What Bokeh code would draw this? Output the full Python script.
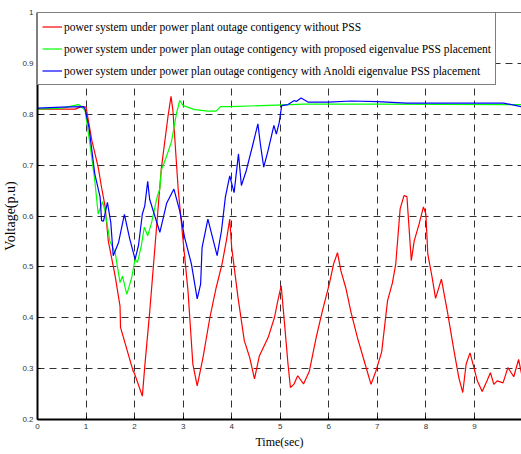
from bokeh.plotting import figure
from bokeh.models import Legend, LegendItem, FixedTicker, Span, Range1d
from bokeh.embed import file_html
from bokeh.resources import INLINE

# ---- data ----
t_red = [0, 0.5, 0.78, 0.9, 1.0, 1.12, 1.25, 1.32, 1.39, 1.46, 1.6, 1.7, 1.71, 1.97, 2.0,
         2.16, 2.21, 2.31, 2.42, 2.55, 2.69, 2.75, 2.79, 2.9, 3.0, 3.1, 3.2, 3.29, 3.41,
         3.55, 3.68, 3.8, 3.89, 3.96, 4.0, 4.13, 4.26, 4.37, 4.47, 4.57, 4.75, 4.88, 4.95,
         5.02, 5.09, 5.16, 5.21, 5.28, 5.36, 5.48, 5.6, 5.74, 5.87, 6.01, 6.1, 6.18, 6.25,
         6.35, 6.46, 6.59, 6.73, 6.87, 6.97, 7.09, 7.21, 7.31, 7.38, 7.47, 7.55, 7.61, 7.7,
         7.76, 7.86, 7.95, 8.0, 8.04, 8.13, 8.2, 8.32, 8.44, 8.58, 8.68, 8.76, 8.83, 8.91,
         8.99, 9.06, 9.16, 9.26, 9.33, 9.4, 9.47, 9.59, 9.69, 9.81, 9.91, 9.97]
v_red = [0.81, 0.81, 0.81, 0.815, 0.814, 0.748, 0.696, 0.656, 0.62, 0.55, 0.482, 0.423, 0.381,
         0.295, 0.29, 0.246, 0.305, 0.41, 0.54, 0.693, 0.797, 0.835, 0.807, 0.65, 0.551,
         0.453, 0.309, 0.266, 0.322, 0.40, 0.459, 0.505, 0.551, 0.594, 0.538, 0.44, 0.355,
         0.322, 0.28, 0.325, 0.361, 0.40, 0.433, 0.463, 0.387, 0.309, 0.263, 0.269, 0.286,
         0.27, 0.295, 0.361, 0.414, 0.466, 0.506, 0.528, 0.492, 0.459, 0.41, 0.361, 0.315,
         0.269, 0.295, 0.333, 0.433, 0.468, 0.506, 0.614, 0.64, 0.638, 0.512, 0.551, 0.584,
         0.618, 0.604, 0.525, 0.479, 0.438, 0.476, 0.414, 0.335, 0.282, 0.253, 0.309, 0.331,
         0.302, 0.276, 0.255, 0.276, 0.292, 0.269, 0.276, 0.272, 0.302, 0.284, 0.318, 0.29]

t_green = [0, 0.5, 0.84, 0.88, 0.98, 1.08, 1.18, 1.25, 1.34, 1.39, 1.49, 1.6, 1.7, 1.75, 1.84,
           1.94, 2.01, 2.06, 2.14, 2.2, 2.27, 2.35, 2.47, 2.52, 2.55, 2.66, 2.76, 2.86, 2.93,
           3.0, 3.24, 3.51, 3.68, 3.77, 3.96, 4.61, 5.5, 7.0, 9.97]
v_green = [0.81, 0.812, 0.819, 0.817, 0.807, 0.742, 0.67, 0.604, 0.628, 0.61, 0.551, 0.528,
           0.469, 0.482, 0.446, 0.479, 0.515, 0.509, 0.542, 0.578, 0.561, 0.587, 0.64, 0.653,
           0.69, 0.718, 0.746, 0.80, 0.827, 0.817, 0.809, 0.806, 0.806, 0.815, 0.815, 0.817,
           0.82, 0.82, 0.819]

t_blue = [0, 0.5, 0.95, 0.98, 1.06, 1.18, 1.29, 1.32, 1.36, 1.44, 1.51, 1.56, 1.67, 1.79, 1.9,
          2.01, 2.08, 2.16, 2.21, 2.27, 2.31, 2.52, 2.66, 2.81, 2.93, 3.03, 3.17, 3.29, 3.36,
          3.39, 3.51, 3.7, 3.79, 3.87, 3.96, 4.05, 4.14, 4.2, 4.3, 4.44, 4.54, 4.59, 4.66,
          4.75, 4.87, 4.92, 4.98, 5.03, 5.16, 5.29, 5.33, 5.43, 5.57, 6.0, 6.46, 7.0, 7.6,
          9.6, 9.97]
v_blue = [0.812, 0.814, 0.815, 0.81, 0.774, 0.683, 0.637, 0.591, 0.59, 0.627, 0.587, 0.522,
          0.548, 0.603, 0.555, 0.515, 0.542, 0.604, 0.62, 0.668, 0.633, 0.568, 0.625, 0.653,
          0.61, 0.558, 0.506, 0.437, 0.466, 0.538, 0.594, 0.522, 0.571, 0.637, 0.679, 0.646,
          0.722, 0.66, 0.689, 0.742, 0.781, 0.742, 0.696, 0.729, 0.778, 0.761, 0.784, 0.817,
          0.819, 0.827, 0.825, 0.832, 0.824, 0.824, 0.826, 0.825, 0.822, 0.822, 0.815]

labels = [
    "power system under power plant outage contigency without PSS",
    "power system under power plan outage contigency with proposed eigenvalue PSS placement",
    "power system under power plan outage contigency with Anoldi eigenvalue PSS placement",
]
x_ticks = [0, 1, 2, 3, 4, 5, 6, 7, 8, 9]
x_tick_labels = ["0", "1", "2", "3", "4", "5", "6", "7", "8", "9"]
y_ticks = [0.2, 0.3, 0.4, 0.5, 0.6, 0.7, 0.8, 0.9, 1.0]
y_tick_labels = ["0.2", "0.3", "0.4", "0.5", "0.6", "0.7", "0.8", "0.9", "1"]

SERIF = "Liberation Serif"
SANS = "Liberation Sans"

p = figure(width=521, height=454, output_backend="svg", toolbar_location=None,
           x_range=Range1d(0, 9.97), y_range=Range1d(0.2, 1.0),
           min_border_left=36, min_border_right=0, min_border_top=12, min_border_bottom=35)
p.outline_line_color = None
p.background_fill_color = "white"
p.border_fill_color = "white"

r1 = p.line(t_red, v_red, line_color="#ff0000", line_width=1.2)
r2 = p.line(t_green, v_green, line_color="#00ff00", line_width=1.2)
r3 = p.line(t_blue, v_blue, line_color="#0000ff", line_width=1.2)

# top border of the box
p.add_layout(Span(location=1.0, dimension="width", line_color="black", line_width=1))

for ax in (p.xaxis[0], p.yaxis[0]):
    ax.axis_line_color = "black"
    ax.axis_line_width = 2
    ax.major_tick_in = 3
    ax.major_tick_out = 0
    ax.minor_tick_line_color = None
    ax.major_label_text_font = SANS
    ax.major_label_text_font_size = "8px"
    ax.major_label_text_color = "#333333"
    ax.major_label_standoff = 4
    ax.axis_label_text_font = SERIF
    ax.axis_label_text_font_style = "normal"
    ax.axis_label_text_color = "black"

p.xaxis.ticker = FixedTicker(ticks=x_ticks)
p.xaxis.major_label_overrides = dict(zip(x_ticks, x_tick_labels))
p.yaxis.ticker = FixedTicker(ticks=y_ticks)
p.yaxis.major_label_overrides = dict(zip(y_ticks, y_tick_labels))

p.xaxis.axis_label = "Time(sec)"
p.xaxis.axis_label_text_font_size = "12px"
p.xaxis.axis_label_standoff = 3
p.yaxis.axis_label = "Voltage(p.u)"
p.yaxis.axis_label_text_font_size = "14px"
p.yaxis.axis_label_standoff = 1

for g in (p.xgrid[0], p.ygrid[0]):
    g.grid_line_color = "#333333"
    g.grid_line_width = 1
    g.grid_line_dash = "7 5"
p.xgrid.ticker = FixedTicker(ticks=x_ticks)
p.ygrid.ticker = FixedTicker(ticks=y_ticks)

legend = Legend(items=[LegendItem(label=labels[0], renderers=[r1]),
                       LegendItem(label=labels[1], renderers=[r2]),
                       LegendItem(label=labels[2], renderers=[r3])],
                location="top_left")
legend.margin = 0
legend.padding = 4
legend.spacing = 3
legend.glyph_width = 20
legend.glyph_height = 19
legend.label_height = 19
legend.label_standoff = 2
legend.label_text_font = SERIF
legend.label_text_font_size = "11.5px"
legend.label_text_color = "black"
legend.border_line_color = "black"
legend.border_line_width = 1
legend.background_fill_color = "white"
legend.background_fill_alpha = 1.0
p.add_layout(legend)

open("out.html", "w").write(file_html(p, INLINE))
